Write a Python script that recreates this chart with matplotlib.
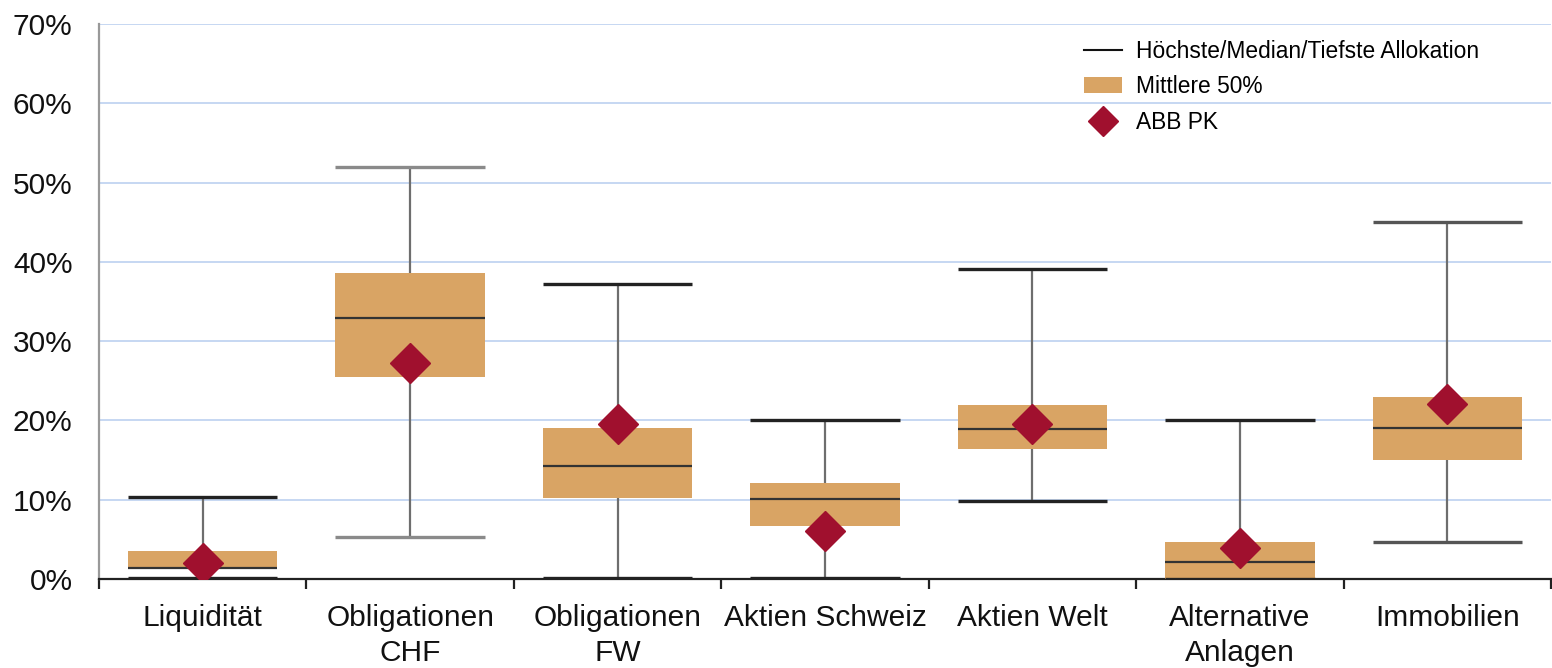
import matplotlib
matplotlib.use("Agg")
import matplotlib.pyplot as plt
from matplotlib.lines import Line2D
from matplotlib.patches import Patch
from matplotlib.ticker import FixedLocator, PercentFormatter

plt.rcParams['font.family'] = ['Liberation Sans', 'DejaVu Sans']

categories = ["Liquidität", "Obligationen\nCHF", "Obligationen\nFW", "Aktien Schweiz",
              "Aktien Welt", "Alternative\nAnlagen", "Immobilien"]
highest = [10.3, 52.0, 37.2, 20.0, 39.1, 20.0, 45.0]
q3 = [3.5, 38.6, 19.1, 12.1, 21.9, 4.7, 23.0]
median = [1.4, 32.9, 14.2, 10.1, 18.9, 2.1, 19.0]
q1 = [1.3, 25.5, 10.2, 6.7, 16.4, 0.0, 15.0]
lowest = [0.1, 5.3, 0.1, 0.1, 9.8, 0.0, 4.7]
abb_pk = [2.0, 27.2, 19.5, 6.0, 19.5, 3.9, 22.1]

box_color = "#D9A464"
diamond_color = "#A0102E"
cap_colors = ["#222222", "#8a8a8a", "#222222", "#222222", "#222222", "#222222", "#555555"]

fig = plt.figure(figsize=(15.52, 6.68), dpi=100)
ax = fig.add_axes([99 / 1552, 1 - 579 / 668, 1452 / 1552, 555 / 668])

x = list(range(len(categories)))
w = 0.72

ax.set_axisbelow(True)
ax.yaxis.grid(True, color="#C6D7F2", linewidth=1.4)

# whiskers from lowest to highest allocation
ax.vlines(x, lowest, highest, color="#6e6e6e", linewidth=1.6, zorder=2)
# interquartile boxes
ax.bar(x, [b - a for a, b in zip(q1, q3)], bottom=q1, width=w,
       color=box_color, edgecolor="none", zorder=3)
# caps and medians
for i in x:
    ax.hlines([highest[i], lowest[i]], i - w / 2, i + w / 2,
              color=cap_colors[i], linewidth=2.4, zorder=4)
ax.hlines(median, [i - w / 2 for i in x], [i + w / 2 for i in x],
          color="#333333", linewidth=1.6, zorder=4)
# fund allocation
ax.plot(x, abb_pk, linestyle="none", marker="D", markersize=20,
        color=diamond_color, zorder=5)

ax.set_xlim(-0.5, 6.5)
ax.set_ylim(0, 70)
ax.set_yticks(range(0, 71, 10))
ax.yaxis.set_major_formatter(PercentFormatter(decimals=0))
ax.set_xticks(x)
ax.set_xticklabels(categories, linespacing=1.3)
ax.xaxis.set_minor_locator(FixedLocator([i - 0.5 for i in range(8)]))
ax.tick_params(axis="x", which="major", length=0, pad=18, labelsize=21.5, colors="#111111")
ax.tick_params(axis="x", which="minor", length=7, width=1.6, color="#222222")
ax.tick_params(axis="y", length=0, pad=19, labelsize=21.5, colors="#111111")

for s in ("top", "right"):
    ax.spines[s].set_visible(False)
ax.spines["left"].set_color("#999999")
ax.spines["left"].set_linewidth(1.6)
ax.spines["bottom"].set_color("#222222")
ax.spines["bottom"].set_linewidth(1.6)

handles = [
    Line2D([0], [0], color="#111111", linewidth=1.5),
    Patch(facecolor=box_color, edgecolor="none"),
    Line2D([0], [0], linestyle="none", marker="D", markersize=15, color=diamond_color),
]
labels = ["Höchste/Median/Tiefste Allokation", "Mittlere 50%", "ABB PK"]
ax.legend(handles, labels, loc="upper left", bbox_to_anchor=(1084 / 1552, 1 - 40 / 668),
          bbox_transform=fig.transFigure, frameon=False, fontsize=16.4,
          handlelength=1.65, handletextpad=0.65, labelspacing=0.54, borderpad=0,
          borderaxespad=0)

fig.savefig("out.png", dpi=100)
